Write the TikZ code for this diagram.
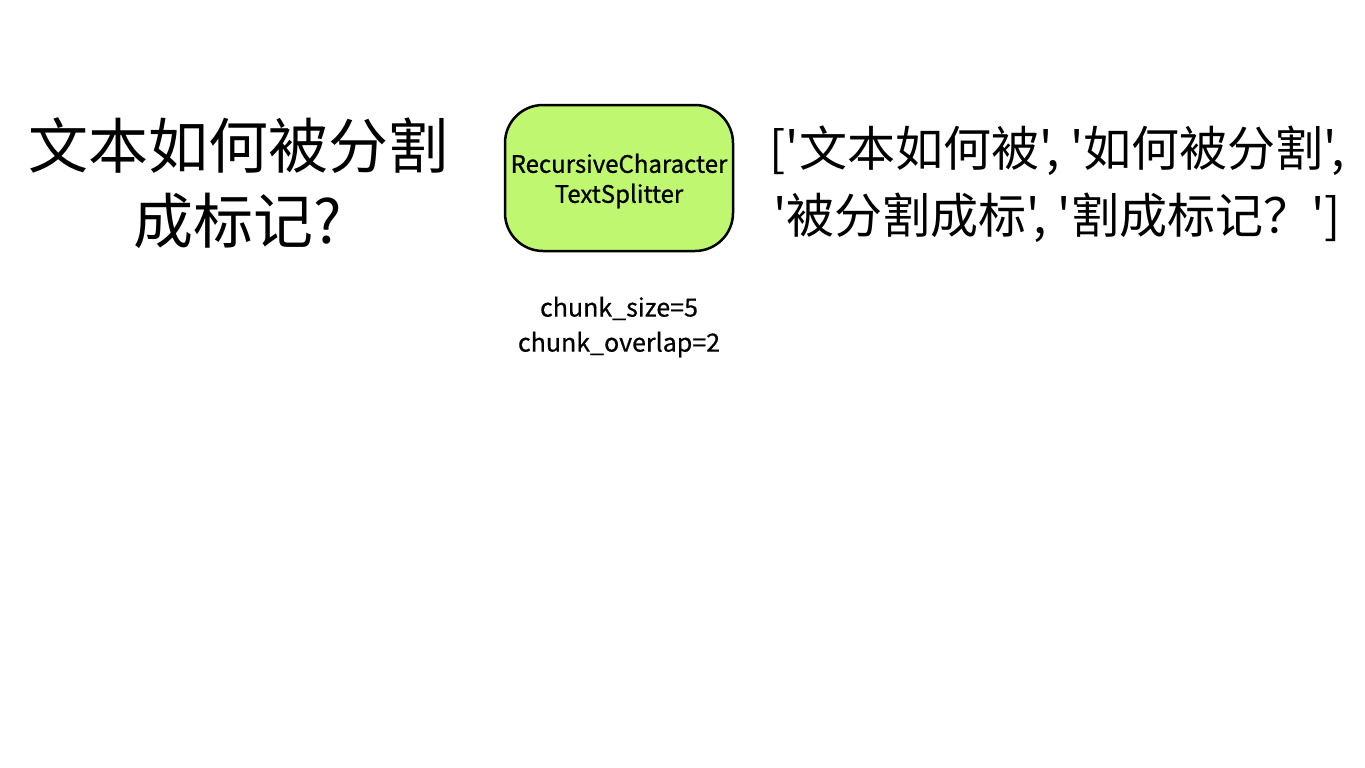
\documentclass[tikz,border=0pt]{standalone}
\usepackage{fontspec}
\newfontfamily\cjk{Noto Sans CJK SC}
\definecolor{boxgreen}{HTML}{BFF870}
\tikzset{
  bigtext/.style={font=\cjk\fontsize{60}{75}\selectfont, align=center, inner sep=0pt},
  outtext/.style={font=\cjk\fontsize{48}{67}\selectfont, align=center, inner sep=0pt},
  splitter/.style={draw=black, line width=2.5pt, fill=boxgreen, rounded corners=38pt,
    minimum width=228pt, minimum height=146pt, align=center,
    font=\cjk\fontsize{24}{30}\selectfont\addfontfeature{FakeBold=0.8}, inner sep=0pt},
  params/.style={font=\cjk\fontsize{25}{35}\selectfont\addfontfeature{FakeBold=0.5}, align=center, inner sep=0pt}
}
\begin{document}
\begin{tikzpicture}[x=1pt,y=-1pt]
\useasboundingbox[fill=white] (0,0) rectangle (1365,768);
\node[bigtext] (src) at (238,183) {文本如何被分割\\成标记?};
\node[splitter] (split) at (619,178) {};
\node[font=\cjk\fontsize{24}{30}\selectfont\addfontfeature{FakeBold=0.8}, align=center, inner sep=0pt] (splitlabel) at (619,181) {RecursiveCharacter\\TextSplitter};
\node[params] (par) at (619,327) {chunk\_size=5\\chunk\_overlap=2};
\node[outtext] (out) at (1057,184) {['文本如何被', '如何被分割',\\'被分割成标', '割成标记？']};
\end{tikzpicture}
\end{document}
